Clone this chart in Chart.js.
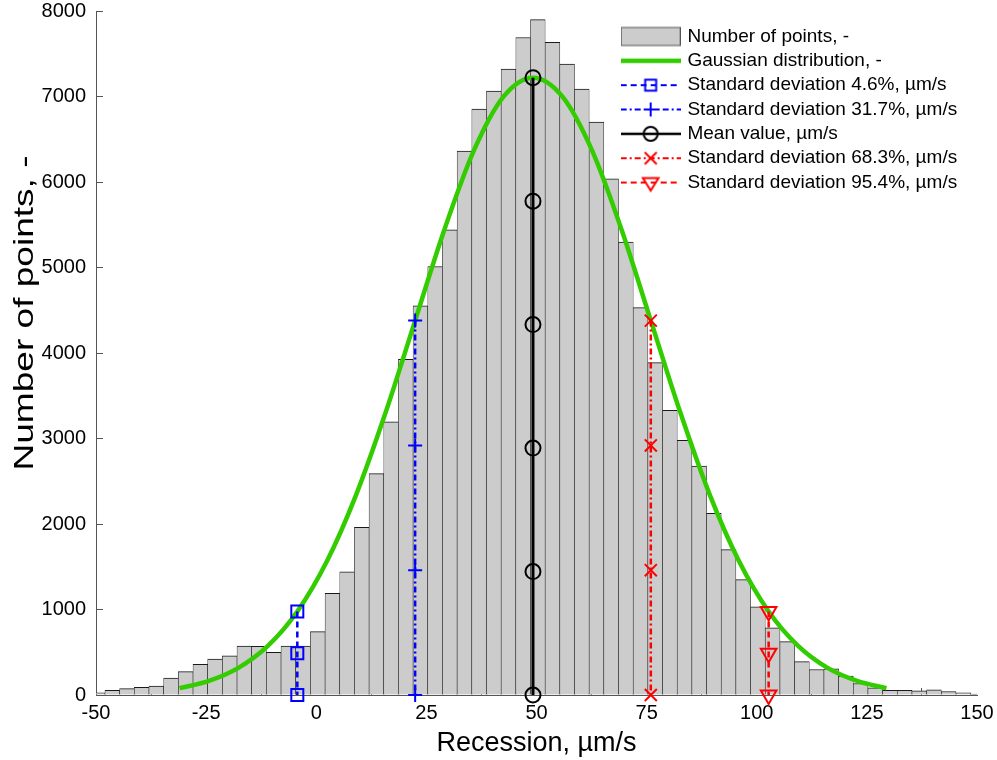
<!DOCTYPE html>
<html>
<head>
<meta charset="utf-8">
<title>Recession histogram</title>
<script src="https://cdn.jsdelivr.net/npm/chart.js@4.4.1/dist/chart.umd.min.js"></script>
<style>
  html, body { margin: 0; padding: 0; background: #fff; }
  #chart { display: block; }
</style>
</head>
<body>
<canvas id="chart" width="997" height="760"></canvas>
<script>
// histogram bins: centre of each bin (µm/s) and number of points in it
const binCenters = [
    -49.63, -46.30, -42.97, -39.64, -36.31, -32.98, -29.64, -26.31, -22.98, -19.65,
    -16.32, -12.99, -9.66, -6.33, -3.00, 0.34, 3.67, 7.00, 10.33, 13.66,
    16.99, 20.32, 23.65, 26.98, 30.31, 33.65, 36.98, 40.31, 43.64, 46.97,
    50.30, 53.63, 56.96, 60.29, 63.62, 66.95, 70.29, 73.62, 76.95, 80.28,
    83.61, 86.94, 90.27, 93.60, 96.93, 100.26, 103.60, 106.93, 110.26, 113.59,
    116.92, 120.25, 123.58, 126.91, 130.24, 133.57, 136.90, 140.24, 143.57, 146.90,
    150.23
]
const binCounts = [
    25, 55, 74, 90, 103, 199, 273, 358, 420, 459,
    572, 568, 498, 572, 572, 742, 1188, 1442, 1960, 2590,
    3195, 3925, 4553, 5012, 5440, 6362, 6853, 7064, 7321, 7690,
    7900, 7635, 7380, 7088, 6702, 6036, 5296, 4530, 3888, 3329,
    2979, 2678, 2125, 1700, 1350, 1030, 785, 625, 391, 298,
    306, 220, 134, 84, 56, 56, 49, 61, 41, 25,
    10
]

// green curve
const gaussX = [
    -31.05, -24.36, -17.67, -10.99, -4.30, 2.39, 9.07, 15.76, 22.45, 29.14,
    35.82, 42.51, 49.20, 55.89, 62.58, 69.26, 75.95, 82.64, 89.32, 96.01,
    102.70, 109.39, 116.07, 122.76, 129.45
]
const gaussY = [
    80, 165, 317, 574, 977, 1561, 2344, 3306, 4379, 5450,
    6372, 6998, 7220, 6998, 6372, 5450, 4379, 3306, 2344, 1561,
    977, 574, 317, 165, 80
]

// vertical lines: x position and the heights of their markers
const sd46X = -4.30
const sd46Y = [977, 488, 0]
const sd317X = 22.45
const sd317Y = [4379, 2919, 1460, 0]
const meanX = 49.20
const meanY = [7220, 5776, 4332, 2888, 1444, 0]
const sd683X = 75.95
const sd683Y = [4379, 2919, 1460, 0]
const sd954X = 102.70
const sd954Y = [977, 488, 0]

const xTicks = { min: -50, max: 150, step: 25 }
const yTicks = { min: 0, max: 8000, step: 1000 }

const xTitle = 'Recession, µm/s'
const yTitle = 'Number of points, -'

const GREEN = '#33cc00'
const BLUE = '#0000ff'
const RED = '#ff0000'
const DASH = [6, 4]
const DASHDOT = [6, 3, 2, 3]
const FONT = '"Liberation Sans", Arial, Helvetica, sans-serif'

const vline = (x, ys) => ys.map((y) => ({ x: x, y: y }))

// little pictures for the legend: line with the marker in the middle
const markerPaths = {
    rect: (ctx, x, y) => { ctx.strokeRect(x - 5.5, y - 5.5, 11, 11) },
    cross: (ctx, x, y) => {
        ctx.beginPath()
        ctx.moveTo(x - 7, y); ctx.lineTo(x + 7, y)
        ctx.moveTo(x, y - 7); ctx.lineTo(x, y + 7)
        ctx.stroke()
    },
    circle: (ctx, x, y) => {
        ctx.beginPath()
        ctx.arc(x, y, 7, 0, Math.PI * 2)
        ctx.stroke()
    },
    crossRot: (ctx, x, y) => {
        ctx.beginPath()
        ctx.moveTo(x - 6, y - 6); ctx.lineTo(x + 6, y + 6)
        ctx.moveTo(x + 6, y - 6); ctx.lineTo(x - 6, y + 6)
        ctx.stroke()
    },
    triangleDown: (ctx, x, y) => {
        ctx.beginPath()
        ctx.moveTo(x, y + 8)
        ctx.lineTo(x - 7.8, y - 4.5)
        ctx.lineTo(x + 7.8, y - 4.5)
        ctx.closePath()
        ctx.stroke()
    }
}

const makeSample = (draw) => {
    const c = document.createElement('canvas')
    c.width = 60
    c.height = 22
    draw(c.getContext('2d'))
    return c
}
const lineSample = (color, dash, width, marker) => makeSample((ctx) => {
    ctx.strokeStyle = color
    ctx.lineWidth = width
    ctx.setLineDash(dash)
    ctx.beginPath()
    ctx.moveTo(0, 11)
    ctx.lineTo(60, 11)
    ctx.stroke()
    ctx.setLineDash([])
    ctx.lineWidth = 2
    if (marker) markerPaths[marker](ctx, 30, 11)
})

const legendSamples = [
    makeSample((ctx) => {
        ctx.fillStyle = '#cccccc'
        ctx.fillRect(0.5, 2, 59, 18)
        ctx.strokeStyle = '#555'
        ctx.lineWidth = 1
        ctx.strokeRect(0.5, 2, 59, 18)
    }),
    lineSample(GREEN, [], 4.5, null),
    lineSample(BLUE, DASH, 2, 'rect'),
    lineSample(BLUE, DASHDOT, 2, 'cross'),
    lineSample('#000', [], 2.5, 'circle'),
    lineSample(RED, DASHDOT, 2, 'crossRot'),
    lineSample(RED, DASH, 2, 'triangleDown'),
]

// put the legend inside the plot, top right
const legendPlacer = {
    id: 'legendPlacer',
    afterLayout(chart) {
        const lg = chart.legend
        if (!lg) return
        const w = lg.width
        const h = lg.height
        lg.left = 618
        lg.top = 21.6
        lg.right = lg.left + w
        lg.bottom = lg.top + h
    }
}

// y label is drawn long and narrow like in the original figure
const yTitlePlugin = {
    id: 'yTitlePlugin',
    afterDraw(chart) {
        const c = chart.ctx
        c.save()
        c.font = '28px ' + FONT
        c.fillStyle = '#000'
        c.textAlign = 'center'
        c.textBaseline = 'middle'
        const w = c.measureText(yTitle).width
        c.translate(25, 313)
        c.rotate(-Math.PI / 2)
        c.scale(315 / w, 1)
        c.fillText(yTitle, 0, 0)
        c.restore()
    }
}

Chart.defaults.font.family = FONT
Chart.defaults.color = '#000'

const ctx = document.getElementById('chart').getContext('2d')

const histChart = new Chart(ctx, {
    type: 'bar',
    plugins: [legendPlacer, yTitlePlugin],
    data: {
        datasets: [
            {
                type: 'bar',
                label: 'Number of points, -',
                data: binCenters.map((x, i) => ({ x: x, y: binCounts[i] })),
                backgroundColor: '#cccccc',
                borderColor: '#1a1a1a',
                borderWidth: { top: 1, left: 0.6, right: 0.6, bottom: 0 },
                barPercentage: 1,
                categoryPercentage: 1,
                clip: 0,
                order: 10,
            },
            {
                type: 'line',
                label: 'Gaussian distribution, -',
                data: gaussX.map((x, i) => ({ x: x, y: gaussY[i] })),
                borderColor: GREEN,
                borderWidth: 4.5,
                pointRadius: 0,
                cubicInterpolationMode: 'monotone',
                fill: false,
                order: 9,
            },
            {
                type: 'line',
                label: 'Standard deviation 4.6%, µm/s',
                data: vline(sd46X, sd46Y),
                borderColor: BLUE,
                borderWidth: 2.5,
                borderDash: DASH,
                pointStyle: 'rect',
                pointRadius: 8.5,
                pointBorderWidth: 2,
                pointBorderColor: BLUE,
                pointBackgroundColor: 'rgba(0,0,0,0)',
                clip: false,
                order: 8,
            },
            {
                type: 'line',
                label: 'Standard deviation 31.7%, µm/s',
                data: vline(sd317X, sd317Y),
                borderColor: BLUE,
                borderWidth: 2.5,
                borderDash: DASHDOT,
                pointStyle: 'cross',
                pointRadius: 7,
                pointBorderWidth: 2,
                pointBorderColor: BLUE,
                pointBackgroundColor: 'rgba(0,0,0,0)',
                clip: false,
                order: 7,
            },
            {
                type: 'line',
                label: 'Mean value, µm/s',
                data: vline(meanX, meanY),
                borderColor: '#000',
                borderWidth: 3,
                pointStyle: 'circle',
                pointRadius: 7.5,
                pointBorderWidth: 2,
                pointBorderColor: '#000',
                pointBackgroundColor: 'rgba(0,0,0,0)',
                clip: false,
                order: 6,
            },
            {
                type: 'line',
                label: 'Standard deviation 68.3%, µm/s',
                data: vline(sd683X, sd683Y),
                borderColor: RED,
                borderWidth: 2.5,
                borderDash: DASHDOT,
                pointStyle: 'crossRot',
                pointRadius: 8.5,
                pointBorderWidth: 2,
                pointBorderColor: RED,
                pointBackgroundColor: 'rgba(0,0,0,0)',
                clip: false,
                order: 5,
            },
            {
                type: 'line',
                label: 'Standard deviation 95.4%, µm/s',
                data: vline(sd954X, sd954Y),
                borderColor: RED,
                borderWidth: 2.5,
                borderDash: DASH,
                pointStyle: 'triangle',
                pointRotation: 180,
                pointRadius: 9,
                pointBorderWidth: 2,
                pointBorderColor: RED,
                pointBackgroundColor: 'rgba(0,0,0,0)',
                clip: false,
                order: 4,
            },
        ]
    },
    options: {
        responsive: false,
        animation: false,
        devicePixelRatio: 1,
        layout: {
            padding: { left: 0, right: 20, top: 10, bottom: 0 }
        },
        plugins: {
            tooltip: { enabled: false },
            legend: {
                display: true,
                position: 'chartArea',
                align: 'start',
                labels: {
                    usePointStyle: true,
                    pointStyleWidth: 54.6,
                    padding: 5.35,
                    font: { size: 19 },
                    color: '#000',
                    generateLabels: (chart) => chart.data.datasets.map((ds, i) => ({
                        text: ds.label,
                        pointStyle: legendSamples[i],
                        datasetIndex: i,
                        hidden: false,
                        fillStyle: 'rgba(0,0,0,0)',
                        strokeStyle: 'rgba(0,0,0,0)',
                        lineWidth: 0,
                        fontColor: '#000',
                    })),
                },
            },
        },
        scales: {
            x: {
                type: 'linear',
                min: xTicks.min,
                max: xTicks.max,
                offset: false,
                ticks: {
                    stepSize: xTicks.step,
                    autoSkip: false,
                    maxRotation: 0,
                    padding: 15,
                    font: { size: 20, lineHeight: 1 },
                    color: '#000',
                    callback: (v) => String(v),
                },
                grid: { drawOnChartArea: false, drawTicks: true, tickLength: -7, color: '#555' },
                border: { display: true, color: '#555', width: 1 },
                title: {
                    display: true,
                    text: xTitle,
                    font: { size: 27 },
                    color: '#000',
                    padding: { top: 0, bottom: 0 },
                },
                afterFit: (scale) => {
                    scale.height = 65
                    scale.paddingLeft = 0
                    scale.paddingRight = 0
                },
            },
            y: {
                type: 'linear',
                min: yTicks.min,
                max: yTicks.max,
                ticks: {
                    stepSize: yTicks.step,
                    autoSkip: false,
                    padding: 17,
                    font: { size: 20, lineHeight: 1 },
                    color: '#000',
                    callback: (v) => String(v),
                },
                grid: { drawOnChartArea: false, drawTicks: true, tickLength: -7, color: '#555' },
                border: { display: true, color: '#555', width: 1 },
                title: { display: false },
                afterFit: (scale) => {
                    scale.width = 96
                    scale.paddingTop = 0
                    scale.paddingBottom = 0
                },
            },
        },
    },
});
</script>
</body>
</html>
